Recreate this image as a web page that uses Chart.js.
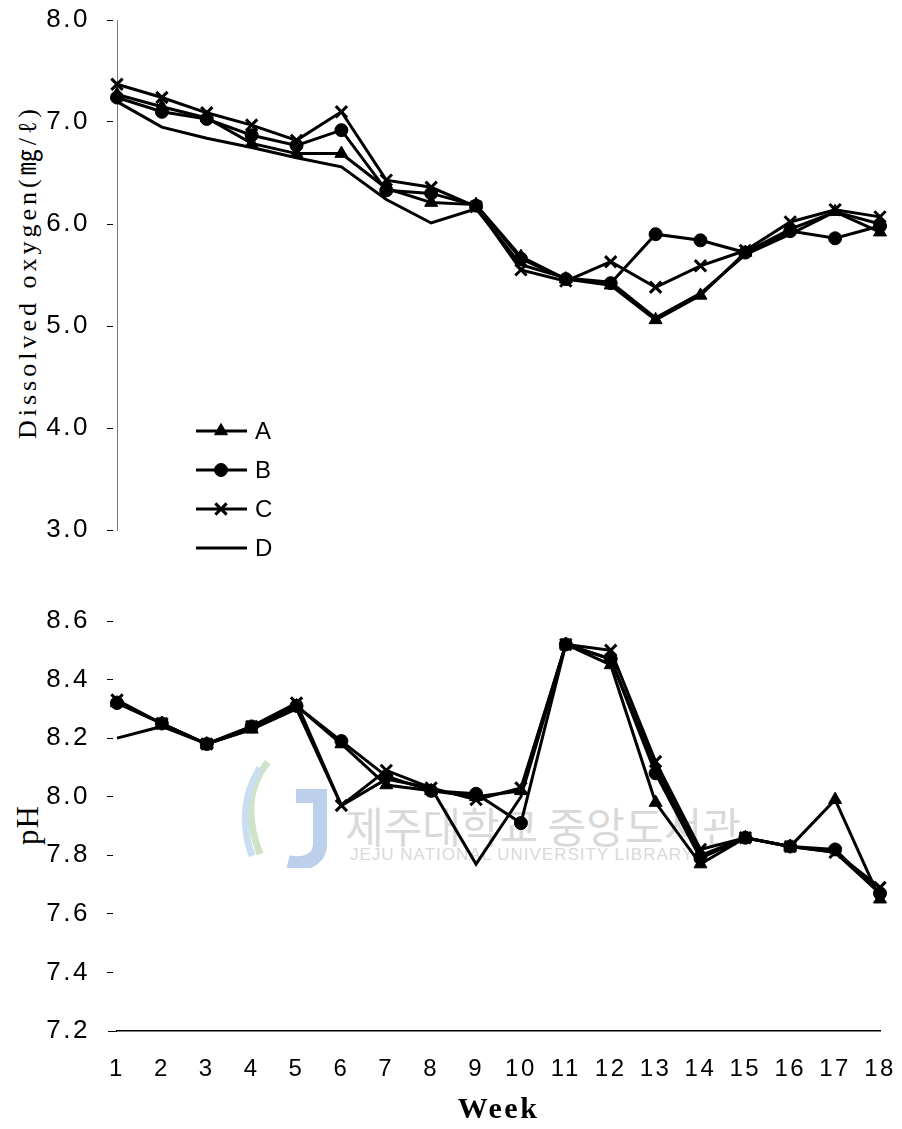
<!DOCTYPE html>
<html>
<head>
<meta charset="utf-8">
<script src="https://cdn.jsdelivr.net/npm/chart.js@4.4.1/dist/chart.umd.min.js"></script>
<style>
  html, body { margin: 0; padding: 0; background: #fff; }
  body { width: 902px; height: 1129px; position: relative; overflow: hidden; }
  canvas { position: absolute; left: 0; }
  #doChart { top: 0; width: 902px; height: 570px; }
  #phChart { top: 580px; width: 902px; height: 549px; }
  .axis-title {
    position: absolute; white-space: nowrap; color: #000;
    font-family: "Liberation Serif", "Noto Sans CJK KR", serif;
    transform: translate(-50%, -50%) rotate(-90deg);
  }
  .mark { position: absolute; white-space: nowrap; color: #d9d9d9; }
  #logo { position: absolute; left: 236px; top: 756px; }
</style>
</head>
<body>
<svg id="logo" width="95" height="112" viewBox="0 0 95 112">
  <path d="M32 6 C 12 30, 10 62, 24 98" stroke="#cfe3c8" stroke-width="7" fill="none"/>
  <path d="M24 12 C 6 40, 6 72, 16 100" stroke="#c9dff0" stroke-width="7" fill="none"/>
  <path d="M60 40 L 84 40 L 84 88 C 84 104, 68 110, 52 106" stroke="#bcd0ec" stroke-width="14" fill="none"/>
</svg>
<div class="mark" style="left:345px; top:794px; font: 42px 'Noto Sans CJK KR';">제주대학교 중앙도서관</div>
<div class="mark" style="left:350px; top:845px; font: 17px 'Liberation Sans'; letter-spacing: 1px;">JEJU NATIONAL UNIVERSITY LIBRARY</div>

<div class="axis-title" style="left:24px; top:272px; font-size:26px; letter-spacing:4px;">Dissolved oxygen(㎎/ℓ)</div>
<div class="axis-title" style="left:28px; top:825px; font-size:31px; letter-spacing:1px;">pH</div>

<canvas id="doChart" width="902" height="570"></canvas>
<canvas id="phChart" width="902" height="549"></canvas>

<script>
// Sampling weeks
const weeks = [1, 2, 3, 4, 5, 6, 7, 8, 9, 10, 11, 12, 13, 14, 15, 16, 17, 18];
const groups = ['A', 'B', 'C', 'D'];

// Dissolved oxygen (mg/L) per group
const doA = [7.27, 7.15, 7.04, 6.79, 6.69, 6.69, 6.35, 6.21, 6.19, 5.68, 5.46, 5.40, 5.06, 5.30, 5.72, 5.95, 6.12, 5.92];
const doB = [7.24, 7.10, 7.03, 6.87, 6.77, 6.92, 6.33, 6.30, 6.18, 5.66, 5.46, 5.42, 5.90, 5.84, 5.72, 5.93, 5.86, 5.98];
const doC = [7.37, 7.24, 7.09, 6.97, 6.82, 7.10, 6.43, 6.36, 6.17, 5.55, 5.44, 5.63, 5.38, 5.59, 5.74, 6.02, 6.14, 6.07];
const doD = [7.20, 6.95, 6.84, 6.75, 6.65, 6.56, 6.24, 6.01, 6.15, 5.60, 5.47, 5.43, 5.08, 5.32, 5.70, 5.90, 6.12, 6.00];

// pH per group
const phA = [8.32, 8.25, 8.18, 8.23, 8.31, 8.18, 8.04, 8.02, 8.00, 8.02, 8.52, 8.45, 7.98, 7.77, 7.86, 7.83, 7.99, 7.65];
const phB = [8.32, 8.25, 8.18, 8.24, 8.31, 8.19, 8.07, 8.02, 8.01, 7.91, 8.52, 8.47, 8.08, 7.79, 7.86, 7.83, 7.82, 7.67];
const phC = [8.33, 8.25, 8.18, 8.24, 8.32, 7.97, 8.09, 8.03, 7.99, 8.03, 8.52, 8.50, 8.12, 7.82, 7.86, 7.83, 7.81, 7.69];
const phD = [8.20, 8.24, 8.18, 8.23, 8.30, 7.97, 8.06, 8.03, 7.77, 8.00, 8.52, 8.47, 8.10, 7.80, 7.86, 7.83, 7.81, 7.67];

// Axis tick values
const doTicks = [3.0, 4.0, 5.0, 6.0, 7.0, 8.0];
const phTicks = [7.2, 7.4, 7.6, 7.8, 8.0, 8.2, 8.4, 8.6];

// Marker per group
const markerStyle = {
  A: { pointStyle: 'triangle', pointRadius: 7.5, pointBorderWidth: 1 },
  B: { pointStyle: 'circle', pointRadius: 6.5, pointBorderWidth: 1 },
  C: { pointStyle: 'crossRot', pointRadius: 8, pointBorderWidth: 3 },
  D: { pointStyle: false, pointRadius: 0, pointBorderWidth: 0 }
};

const yTickFont = { family: "'Liberation Sans', Arial, sans-serif", size: 26, lineHeight: 0.9 };
const xTickFont = { family: "'Liberation Sans', Arial, sans-serif", size: 24 };

function makeDatasets(series) {
  return groups.map((g, i) => Object.assign({
    label: g,
    data: series[i],
    borderColor: '#000',
    backgroundColor: '#000',
    pointBackgroundColor: '#000',
    pointBorderColor: '#000',
    borderWidth: 3,
    tension: 0,
    clip: false
  }, markerStyle[g]));
}

// Short left tick marks, set off a few pixels from the axis
const TICK_MARK = [0, 9, 6, 100];
function yGrid() {
  return {
    drawOnChartArea: false,
    drawTicks: true,
    tickLength: 19,
    tickColor: '#000',
    tickWidth: 1,
    tickBorderDash: TICK_MARK
  };
}

// Wider letter spacing for the value labels on the left axis;
// the x axis sits on a later layer and is drawn with normal spacing.
const spacedLabels = {
  id: 'spacedLabels',
  beforeDraw(chart) { chart.ctx.letterSpacing = '2.5px'; },
  beforeDatasetsDraw(chart) { chart.ctx.letterSpacing = '0px'; }
};

// Vertical legend with line + marker samples
const groupLegend = {
  id: 'groupLegend',
  afterDraw(chart) {
    const ctx = chart.ctx;
    ctx.save();
    ctx.letterSpacing = '0px';
    chart.data.datasets.forEach((ds, i) => {
      const y = 431 + i * 39;
      ctx.strokeStyle = '#000';
      ctx.lineWidth = 3;
      ctx.beginPath();
      ctx.moveTo(196, y);
      ctx.lineTo(247, y);
      ctx.stroke();
      if (ds.pointStyle) {
        ctx.fillStyle = '#000';
        ctx.lineWidth = ds.pointBorderWidth;
        Chart.helpers.drawPoint(ctx, {
          pointStyle: ds.pointStyle,
          radius: ds.pointRadius,
          rotation: 0,
          borderWidth: ds.pointBorderWidth
        }, 221, y);
      }
      ctx.fillStyle = '#000';
      ctx.font = "24px 'Liberation Sans', Arial, sans-serif";
      ctx.textAlign = 'left';
      ctx.textBaseline = 'middle';
      ctx.fillText(ds.label, 255, y + 1);
    });
    ctx.restore();
  }
};

new Chart(document.getElementById('doChart'), {
  type: 'line',
  data: { labels: weeks, datasets: makeDatasets([doA, doB, doC, doD]) },
  plugins: [spacedLabels, groupLegend],
  options: {
    responsive: false,
    devicePixelRatio: 1,
    animation: false,
    layout: { padding: { top: 20, right: 22, bottom: 40, left: 0 } },
    plugins: { legend: { display: false }, tooltip: { enabled: false } },
    scales: {
      x: { type: 'category', offset: false, display: false },
      y: {
        min: 3, max: 8,
        afterBuildTicks: s => { s.ticks = doTicks.map(v => ({ value: v })); },
        afterFit: s => { s.width = 117; },
        grid: yGrid(),
        border: { display: true, color: '#777', width: 1, dash: [5, 3, 1, 3] },
        ticks: { color: '#000', font: yTickFont, padding: 8, callback: v => Number(v).toFixed(1) }
      }
    }
  }
});

new Chart(document.getElementById('phChart'), {
  type: 'line',
  data: { labels: weeks, datasets: makeDatasets([phA, phB, phC, phD]) },
  plugins: [spacedLabels],
  options: {
    responsive: false,
    devicePixelRatio: 1,
    animation: false,
    layout: { padding: { top: 41, right: 22, bottom: 0, left: 0 } },
    plugins: { legend: { display: false }, tooltip: { enabled: false } },
    scales: {
      x: {
        type: 'category', offset: false, z: 1,
        afterFit: s => { s.height = 98; },
        grid: {
          display: true, drawOnChartArea: false, drawTicks: true,
          tickLength: 22, tickColor: 'rgba(0,0,0,0)'
        },
        border: { display: true, color: '#000', width: 1.5 },
        ticks: { color: '#000', font: xTickFont, padding: 2, autoSkip: false, maxRotation: 0 },
        title: {
          display: true, text: 'Week', color: '#000',
          font: { family: "'Liberation Serif', serif", size: 30, weight: 'bold' },
          padding: { top: 0, bottom: 1 }
        }
      },
      y: {
        min: 7.2, max: 8.6,
        afterBuildTicks: s => { s.ticks = phTicks.map(v => ({ value: v })); },
        afterFit: s => { s.width = 117; },
        grid: Object.assign(yGrid(), {
          // the bottom tick runs into the x axis line
          tickBorderDash: c => (c.tick && Math.abs(c.tick.value - 7.2) < 1e-6) ? [0, 10, 30, 0] : TICK_MARK
        }),
        border: { display: false },
        ticks: { color: '#000', font: yTickFont, padding: 8, callback: v => Number(v).toFixed(1) }
      }
    }
  }
});
</script>
</body>
</html>
